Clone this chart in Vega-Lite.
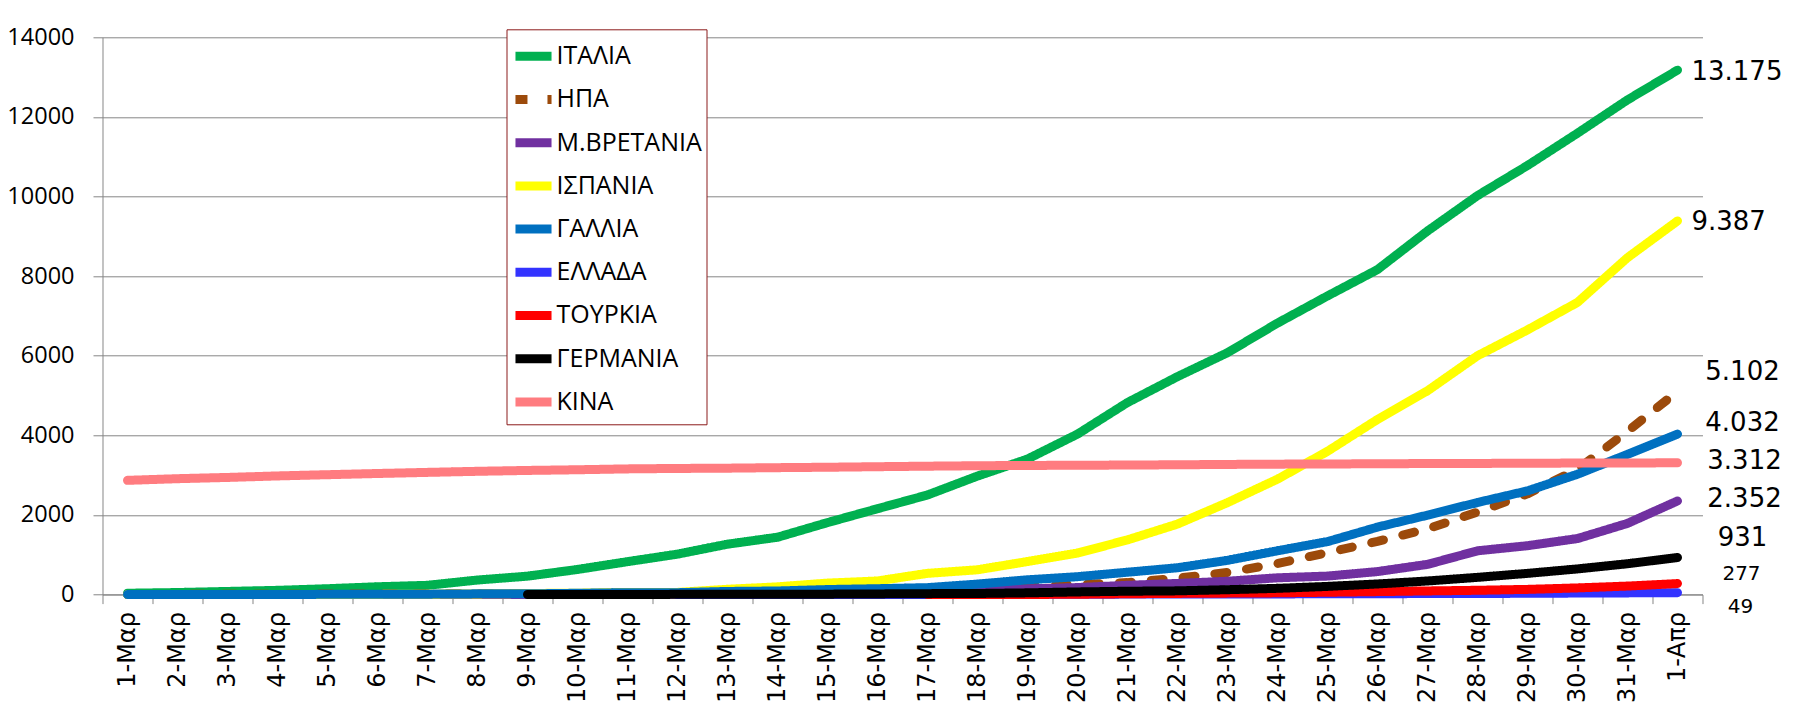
{
"$schema":"https://vega.github.io/schema/vega-lite/v6.json",
"width":1600,"height":557.3,
"autosize":{"type":"none"},
"padding":{"left":102.5,"top":37.3,"right":102,"bottom":121},
"background":"white",
"config":{
"locale":{"number":{"decimal":",","thousands":".","grouping":[3],"currency":["","€"]}},
"view":{"stroke":null},
"axis":{"title":null},
"legend":{"orient":"none","legendX":404,"legendY":-8,"strokeColor":"#8B1A1A","fillColor":"white","padding":4,"labelFont":"Open Sans","labelFontSize":25,"labelColor":"black","symbolType":"stroke","symbolSize":1300,"symbolStrokeWidth":9,"rowPadding":2.2,"labelOffset":0,"labelLimit":300}
},
"data":{"values":[
{"c":"ΙΤΑΛΙΑ","d":"1-Μαρ","v":34},{"c":"ΙΤΑΛΙΑ","d":"2-Μαρ","v":52},{"c":"ΙΤΑΛΙΑ","d":"3-Μαρ","v":79},{"c":"ΙΤΑΛΙΑ","d":"4-Μαρ","v":107},{"c":"ΙΤΑΛΙΑ","d":"5-Μαρ","v":148},{"c":"ΙΤΑΛΙΑ","d":"6-Μαρ","v":197},{"c":"ΙΤΑΛΙΑ","d":"7-Μαρ","v":233},{"c":"ΙΤΑΛΙΑ","d":"8-Μαρ","v":366},{"c":"ΙΤΑΛΙΑ","d":"9-Μαρ","v":463},{"c":"ΙΤΑΛΙΑ","d":"10-Μαρ","v":631},{"c":"ΙΤΑΛΙΑ","d":"11-Μαρ","v":827},{"c":"ΙΤΑΛΙΑ","d":"12-Μαρ","v":1016},{"c":"ΙΤΑΛΙΑ","d":"13-Μαρ","v":1266},{"c":"ΙΤΑΛΙΑ","d":"14-Μαρ","v":1441},{"c":"ΙΤΑΛΙΑ","d":"15-Μαρ","v":1809},{"c":"ΙΤΑΛΙΑ","d":"16-Μαρ","v":2158},{"c":"ΙΤΑΛΙΑ","d":"17-Μαρ","v":2503},{"c":"ΙΤΑΛΙΑ","d":"18-Μαρ","v":2978},{"c":"ΙΤΑΛΙΑ","d":"19-Μαρ","v":3405},{"c":"ΙΤΑΛΙΑ","d":"20-Μαρ","v":4032},{"c":"ΙΤΑΛΙΑ","d":"21-Μαρ","v":4825},{"c":"ΙΤΑΛΙΑ","d":"22-Μαρ","v":5476},{"c":"ΙΤΑΛΙΑ","d":"23-Μαρ","v":6077},{"c":"ΙΤΑΛΙΑ","d":"24-Μαρ","v":6820},{"c":"ΙΤΑΛΙΑ","d":"25-Μαρ","v":7503},{"c":"ΙΤΑΛΙΑ","d":"26-Μαρ","v":8165},{"c":"ΙΤΑΛΙΑ","d":"27-Μαρ","v":9134},{"c":"ΙΤΑΛΙΑ","d":"28-Μαρ","v":10023},{"c":"ΙΤΑΛΙΑ","d":"29-Μαρ","v":10779},{"c":"ΙΤΑΛΙΑ","d":"30-Μαρ","v":11591},{"c":"ΙΤΑΛΙΑ","d":"31-Μαρ","v":12428},{"c":"ΙΤΑΛΙΑ","d":"1-Απρ","v":13175},
{"c":"ΗΠΑ","d":"1-Μαρ","v":1},{"c":"ΗΠΑ","d":"2-Μαρ","v":6},{"c":"ΗΠΑ","d":"3-Μαρ","v":9},{"c":"ΗΠΑ","d":"4-Μαρ","v":11},{"c":"ΗΠΑ","d":"5-Μαρ","v":12},{"c":"ΗΠΑ","d":"6-Μαρ","v":14},{"c":"ΗΠΑ","d":"7-Μαρ","v":17},{"c":"ΗΠΑ","d":"8-Μαρ","v":21},{"c":"ΗΠΑ","d":"9-Μαρ","v":22},{"c":"ΗΠΑ","d":"10-Μαρ","v":28},{"c":"ΗΠΑ","d":"11-Μαρ","v":36},{"c":"ΗΠΑ","d":"12-Μαρ","v":40},{"c":"ΗΠΑ","d":"13-Μαρ","v":47},{"c":"ΗΠΑ","d":"14-Μαρ","v":54},{"c":"ΗΠΑ","d":"15-Μαρ","v":63},{"c":"ΗΠΑ","d":"16-Μαρ","v":85},{"c":"ΗΠΑ","d":"17-Μαρ","v":108},{"c":"ΗΠΑ","d":"18-Μαρ","v":150},{"c":"ΗΠΑ","d":"19-Μαρ","v":206},{"c":"ΗΠΑ","d":"20-Μαρ","v":255},{"c":"ΗΠΑ","d":"21-Μαρ","v":301},{"c":"ΗΠΑ","d":"22-Μαρ","v":414},{"c":"ΗΠΑ","d":"23-Μαρ","v":555},{"c":"ΗΠΑ","d":"24-Μαρ","v":780},{"c":"ΗΠΑ","d":"25-Μαρ","v":1054},{"c":"ΗΠΑ","d":"26-Μαρ","v":1337},{"c":"ΗΠΑ","d":"27-Μαρ","v":1652},{"c":"ΗΠΑ","d":"28-Μαρ","v":2074},{"c":"ΗΠΑ","d":"29-Μαρ","v":2530},{"c":"ΗΠΑ","d":"30-Μαρ","v":3150},{"c":"ΗΠΑ","d":"31-Μαρ","v":4100},{"c":"ΗΠΑ","d":"1-Απρ","v":5102},
{"c":"Μ.ΒΡΕΤΑΝΙΑ","d":"1-Μαρ","v":0},{"c":"Μ.ΒΡΕΤΑΝΙΑ","d":"2-Μαρ","v":0},{"c":"Μ.ΒΡΕΤΑΝΙΑ","d":"3-Μαρ","v":0},{"c":"Μ.ΒΡΕΤΑΝΙΑ","d":"4-Μαρ","v":0},{"c":"Μ.ΒΡΕΤΑΝΙΑ","d":"5-Μαρ","v":1},{"c":"Μ.ΒΡΕΤΑΝΙΑ","d":"6-Μαρ","v":2},{"c":"Μ.ΒΡΕΤΑΝΙΑ","d":"7-Μαρ","v":2},{"c":"Μ.ΒΡΕΤΑΝΙΑ","d":"8-Μαρ","v":3},{"c":"Μ.ΒΡΕΤΑΝΙΑ","d":"9-Μαρ","v":4},{"c":"Μ.ΒΡΕΤΑΝΙΑ","d":"10-Μαρ","v":6},{"c":"Μ.ΒΡΕΤΑΝΙΑ","d":"11-Μαρ","v":8},{"c":"Μ.ΒΡΕΤΑΝΙΑ","d":"12-Μαρ","v":8},{"c":"Μ.ΒΡΕΤΑΝΙΑ","d":"13-Μαρ","v":8},{"c":"Μ.ΒΡΕΤΑΝΙΑ","d":"14-Μαρ","v":21},{"c":"Μ.ΒΡΕΤΑΝΙΑ","d":"15-Μαρ","v":35},{"c":"Μ.ΒΡΕΤΑΝΙΑ","d":"16-Μαρ","v":55},{"c":"Μ.ΒΡΕΤΑΝΙΑ","d":"17-Μαρ","v":71},{"c":"Μ.ΒΡΕΤΑΝΙΑ","d":"18-Μαρ","v":104},{"c":"Μ.ΒΡΕΤΑΝΙΑ","d":"19-Μαρ","v":144},{"c":"Μ.ΒΡΕΤΑΝΙΑ","d":"20-Μαρ","v":177},{"c":"Μ.ΒΡΕΤΑΝΙΑ","d":"21-Μαρ","v":233},{"c":"Μ.ΒΡΕΤΑΝΙΑ","d":"22-Μαρ","v":281},{"c":"Μ.ΒΡΕΤΑΝΙΑ","d":"23-Μαρ","v":335},{"c":"Μ.ΒΡΕΤΑΝΙΑ","d":"24-Μαρ","v":422},{"c":"Μ.ΒΡΕΤΑΝΙΑ","d":"25-Μαρ","v":465},{"c":"Μ.ΒΡΕΤΑΝΙΑ","d":"26-Μαρ","v":578},{"c":"Μ.ΒΡΕΤΑΝΙΑ","d":"27-Μαρ","v":759},{"c":"Μ.ΒΡΕΤΑΝΙΑ","d":"28-Μαρ","v":1100},{"c":"Μ.ΒΡΕΤΑΝΙΑ","d":"29-Μαρ","v":1228},{"c":"Μ.ΒΡΕΤΑΝΙΑ","d":"30-Μαρ","v":1408},{"c":"Μ.ΒΡΕΤΑΝΙΑ","d":"31-Μαρ","v":1789},{"c":"Μ.ΒΡΕΤΑΝΙΑ","d":"1-Απρ","v":2352},
{"c":"ΙΣΠΑΝΙΑ","d":"1-Μαρ","v":0},{"c":"ΙΣΠΑΝΙΑ","d":"2-Μαρ","v":0},{"c":"ΙΣΠΑΝΙΑ","d":"3-Μαρ","v":1},{"c":"ΙΣΠΑΝΙΑ","d":"4-Μαρ","v":2},{"c":"ΙΣΠΑΝΙΑ","d":"5-Μαρ","v":3},{"c":"ΙΣΠΑΝΙΑ","d":"6-Μαρ","v":5},{"c":"ΙΣΠΑΝΙΑ","d":"7-Μαρ","v":10},{"c":"ΙΣΠΑΝΙΑ","d":"8-Μαρ","v":17},{"c":"ΙΣΠΑΝΙΑ","d":"9-Μαρ","v":28},{"c":"ΙΣΠΑΝΙΑ","d":"10-Μαρ","v":35},{"c":"ΙΣΠΑΝΙΑ","d":"11-Μαρ","v":54},{"c":"ΙΣΠΑΝΙΑ","d":"12-Μαρ","v":55},{"c":"ΙΣΠΑΝΙΑ","d":"13-Μαρ","v":133},{"c":"ΙΣΠΑΝΙΑ","d":"14-Μαρ","v":195},{"c":"ΙΣΠΑΝΙΑ","d":"15-Μαρ","v":289},{"c":"ΙΣΠΑΝΙΑ","d":"16-Μαρ","v":342},{"c":"ΙΣΠΑΝΙΑ","d":"17-Μαρ","v":533},{"c":"ΙΣΠΑΝΙΑ","d":"18-Μαρ","v":623},{"c":"ΙΣΠΑΝΙΑ","d":"19-Μαρ","v":830},{"c":"ΙΣΠΑΝΙΑ","d":"20-Μαρ","v":1043},{"c":"ΙΣΠΑΝΙΑ","d":"21-Μαρ","v":1375},{"c":"ΙΣΠΑΝΙΑ","d":"22-Μαρ","v":1772},{"c":"ΙΣΠΑΝΙΑ","d":"23-Μαρ","v":2311},{"c":"ΙΣΠΑΝΙΑ","d":"24-Μαρ","v":2900},{"c":"ΙΣΠΑΝΙΑ","d":"25-Μαρ","v":3600},{"c":"ΙΣΠΑΝΙΑ","d":"26-Μαρ","v":4400},{"c":"ΙΣΠΑΝΙΑ","d":"27-Μαρ","v":5120},{"c":"ΙΣΠΑΝΙΑ","d":"28-Μαρ","v":6000},{"c":"ΙΣΠΑΝΙΑ","d":"29-Μαρ","v":6650},{"c":"ΙΣΠΑΝΙΑ","d":"30-Μαρ","v":7340},{"c":"ΙΣΠΑΝΙΑ","d":"31-Μαρ","v":8464},{"c":"ΙΣΠΑΝΙΑ","d":"1-Απρ","v":9387},
{"c":"ΓΑΛΛΙΑ","d":"1-Μαρ","v":2},{"c":"ΓΑΛΛΙΑ","d":"2-Μαρ","v":3},{"c":"ΓΑΛΛΙΑ","d":"3-Μαρ","v":4},{"c":"ΓΑΛΛΙΑ","d":"4-Μαρ","v":4},{"c":"ΓΑΛΛΙΑ","d":"5-Μαρ","v":6},{"c":"ΓΑΛΛΙΑ","d":"6-Μαρ","v":9},{"c":"ΓΑΛΛΙΑ","d":"7-Μαρ","v":11},{"c":"ΓΑΛΛΙΑ","d":"8-Μαρ","v":19},{"c":"ΓΑΛΛΙΑ","d":"9-Μαρ","v":19},{"c":"ΓΑΛΛΙΑ","d":"10-Μαρ","v":33},{"c":"ΓΑΛΛΙΑ","d":"11-Μαρ","v":48},{"c":"ΓΑΛΛΙΑ","d":"12-Μαρ","v":48},{"c":"ΓΑΛΛΙΑ","d":"13-Μαρ","v":79},{"c":"ΓΑΛΛΙΑ","d":"14-Μαρ","v":91},{"c":"ΓΑΛΛΙΑ","d":"15-Μαρ","v":127},{"c":"ΓΑΛΛΙΑ","d":"16-Μαρ","v":148},{"c":"ΓΑΛΛΙΑ","d":"17-Μαρ","v":175},{"c":"ΓΑΛΛΙΑ","d":"18-Μαρ","v":264},{"c":"ΓΑΛΛΙΑ","d":"19-Μαρ","v":372},{"c":"ΓΑΛΛΙΑ","d":"20-Μαρ","v":450},{"c":"ΓΑΛΛΙΑ","d":"21-Μαρ","v":562},{"c":"ΓΑΛΛΙΑ","d":"22-Μαρ","v":674},{"c":"ΓΑΛΛΙΑ","d":"23-Μαρ","v":860},{"c":"ΓΑΛΛΙΑ","d":"24-Μαρ","v":1100},{"c":"ΓΑΛΛΙΑ","d":"25-Μαρ","v":1331},{"c":"ΓΑΛΛΙΑ","d":"26-Μαρ","v":1696},{"c":"ΓΑΛΛΙΑ","d":"27-Μαρ","v":1995},{"c":"ΓΑΛΛΙΑ","d":"28-Μαρ","v":2314},{"c":"ΓΑΛΛΙΑ","d":"29-Μαρ","v":2606},{"c":"ΓΑΛΛΙΑ","d":"30-Μαρ","v":3024},{"c":"ΓΑΛΛΙΑ","d":"31-Μαρ","v":3523},{"c":"ΓΑΛΛΙΑ","d":"1-Απρ","v":4032},
{"c":"ΕΛΛΑΔΑ","d":"12-Μαρ","v":1},{"c":"ΕΛΛΑΔΑ","d":"13-Μαρ","v":1},{"c":"ΕΛΛΑΔΑ","d":"14-Μαρ","v":3},{"c":"ΕΛΛΑΔΑ","d":"15-Μαρ","v":4},{"c":"ΕΛΛΑΔΑ","d":"16-Μαρ","v":4},{"c":"ΕΛΛΑΔΑ","d":"17-Μαρ","v":5},{"c":"ΕΛΛΑΔΑ","d":"18-Μαρ","v":5},{"c":"ΕΛΛΑΔΑ","d":"19-Μαρ","v":6},{"c":"ΕΛΛΑΔΑ","d":"20-Μαρ","v":6},{"c":"ΕΛΛΑΔΑ","d":"21-Μαρ","v":13},{"c":"ΕΛΛΑΔΑ","d":"22-Μαρ","v":13},{"c":"ΕΛΛΑΔΑ","d":"23-Μαρ","v":15},{"c":"ΕΛΛΑΔΑ","d":"24-Μαρ","v":17},{"c":"ΕΛΛΑΔΑ","d":"25-Μαρ","v":20},{"c":"ΕΛΛΑΔΑ","d":"26-Μαρ","v":22},{"c":"ΕΛΛΑΔΑ","d":"27-Μαρ","v":26},{"c":"ΕΛΛΑΔΑ","d":"28-Μαρ","v":28},{"c":"ΕΛΛΑΔΑ","d":"29-Μαρ","v":32},{"c":"ΕΛΛΑΔΑ","d":"30-Μαρ","v":38},{"c":"ΕΛΛΑΔΑ","d":"31-Μαρ","v":43},{"c":"ΕΛΛΑΔΑ","d":"1-Απρ","v":49},
{"c":"ΤΟΥΡΚΙΑ","d":"17-Μαρ","v":1},{"c":"ΤΟΥΡΚΙΑ","d":"18-Μαρ","v":2},{"c":"ΤΟΥΡΚΙΑ","d":"19-Μαρ","v":3},{"c":"ΤΟΥΡΚΙΑ","d":"20-Μαρ","v":9},{"c":"ΤΟΥΡΚΙΑ","d":"21-Μαρ","v":21},{"c":"ΤΟΥΡΚΙΑ","d":"22-Μαρ","v":30},{"c":"ΤΟΥΡΚΙΑ","d":"23-Μαρ","v":37},{"c":"ΤΟΥΡΚΙΑ","d":"24-Μαρ","v":44},{"c":"ΤΟΥΡΚΙΑ","d":"25-Μαρ","v":59},{"c":"ΤΟΥΡΚΙΑ","d":"26-Μαρ","v":75},{"c":"ΤΟΥΡΚΙΑ","d":"27-Μαρ","v":92},{"c":"ΤΟΥΡΚΙΑ","d":"28-Μαρ","v":108},{"c":"ΤΟΥΡΚΙΑ","d":"29-Μαρ","v":131},{"c":"ΤΟΥΡΚΙΑ","d":"30-Μαρ","v":168},{"c":"ΤΟΥΡΚΙΑ","d":"31-Μαρ","v":214},{"c":"ΤΟΥΡΚΙΑ","d":"1-Απρ","v":277},
{"c":"ΓΕΡΜΑΝΙΑ","d":"9-Μαρ","v":2},{"c":"ΓΕΡΜΑΝΙΑ","d":"10-Μαρ","v":2},{"c":"ΓΕΡΜΑΝΙΑ","d":"11-Μαρ","v":3},{"c":"ΓΕΡΜΑΝΙΑ","d":"12-Μαρ","v":6},{"c":"ΓΕΡΜΑΝΙΑ","d":"13-Μαρ","v":8},{"c":"ΓΕΡΜΑΝΙΑ","d":"14-Μαρ","v":9},{"c":"ΓΕΡΜΑΝΙΑ","d":"15-Μαρ","v":11},{"c":"ΓΕΡΜΑΝΙΑ","d":"16-Μαρ","v":17},{"c":"ΓΕΡΜΑΝΙΑ","d":"17-Μαρ","v":24},{"c":"ΓΕΡΜΑΝΙΑ","d":"18-Μαρ","v":28},{"c":"ΓΕΡΜΑΝΙΑ","d":"19-Μαρ","v":44},{"c":"ΓΕΡΜΑΝΙΑ","d":"20-Μαρ","v":67},{"c":"ΓΕΡΜΑΝΙΑ","d":"21-Μαρ","v":84},{"c":"ΓΕΡΜΑΝΙΑ","d":"22-Μαρ","v":94},{"c":"ΓΕΡΜΑΝΙΑ","d":"23-Μαρ","v":123},{"c":"ΓΕΡΜΑΝΙΑ","d":"24-Μαρ","v":157},{"c":"ΓΕΡΜΑΝΙΑ","d":"25-Μαρ","v":206},{"c":"ΓΕΡΜΑΝΙΑ","d":"26-Μαρ","v":267},{"c":"ΓΕΡΜΑΝΙΑ","d":"27-Μαρ","v":342},{"c":"ΓΕΡΜΑΝΙΑ","d":"28-Μαρ","v":433},{"c":"ΓΕΡΜΑΝΙΑ","d":"29-Μαρ","v":533},{"c":"ΓΕΡΜΑΝΙΑ","d":"30-Μαρ","v":645},{"c":"ΓΕΡΜΑΝΙΑ","d":"31-Μαρ","v":775},{"c":"ΓΕΡΜΑΝΙΑ","d":"1-Απρ","v":931},
{"c":"ΚΙΝΑ","d":"1-Μαρ","v":2870},{"c":"ΚΙΝΑ","d":"2-Μαρ","v":2912},{"c":"ΚΙΝΑ","d":"3-Μαρ","v":2943},{"c":"ΚΙΝΑ","d":"4-Μαρ","v":2981},{"c":"ΚΙΝΑ","d":"5-Μαρ","v":3012},{"c":"ΚΙΝΑ","d":"6-Μαρ","v":3042},{"c":"ΚΙΝΑ","d":"7-Μαρ","v":3070},{"c":"ΚΙΝΑ","d":"8-Μαρ","v":3097},{"c":"ΚΙΝΑ","d":"9-Μαρ","v":3119},{"c":"ΚΙΝΑ","d":"10-Μαρ","v":3136},{"c":"ΚΙΝΑ","d":"11-Μαρ","v":3158},{"c":"ΚΙΝΑ","d":"12-Μαρ","v":3169},{"c":"ΚΙΝΑ","d":"13-Μαρ","v":3176},{"c":"ΚΙΝΑ","d":"14-Μαρ","v":3189},{"c":"ΚΙΝΑ","d":"15-Μαρ","v":3199},{"c":"ΚΙΝΑ","d":"16-Μαρ","v":3213},{"c":"ΚΙΝΑ","d":"17-Μαρ","v":3226},{"c":"ΚΙΝΑ","d":"18-Μαρ","v":3237},{"c":"ΚΙΝΑ","d":"19-Μαρ","v":3245},{"c":"ΚΙΝΑ","d":"20-Μαρ","v":3248},{"c":"ΚΙΝΑ","d":"21-Μαρ","v":3255},{"c":"ΚΙΝΑ","d":"22-Μαρ","v":3261},{"c":"ΚΙΝΑ","d":"23-Μαρ","v":3270},{"c":"ΚΙΝΑ","d":"24-Μαρ","v":3277},{"c":"ΚΙΝΑ","d":"25-Μαρ","v":3281},{"c":"ΚΙΝΑ","d":"26-Μαρ","v":3287},{"c":"ΚΙΝΑ","d":"27-Μαρ","v":3292},{"c":"ΚΙΝΑ","d":"28-Μαρ","v":3295},{"c":"ΚΙΝΑ","d":"29-Μαρ","v":3300},{"c":"ΚΙΝΑ","d":"30-Μαρ","v":3304},{"c":"ΚΙΝΑ","d":"31-Μαρ","v":3305},{"c":"ΚΙΝΑ","d":"1-Απρ","v":3312}
]},
"encoding":{
"x":{"field":"d","type":"ordinal","bandPosition":0.5,
 "scale":{"type":"band","paddingInner":0,"paddingOuter":0,"domain":["1-Μαρ","2-Μαρ","3-Μαρ","4-Μαρ","5-Μαρ","6-Μαρ","7-Μαρ","8-Μαρ","9-Μαρ","10-Μαρ","11-Μαρ","12-Μαρ","13-Μαρ","14-Μαρ","15-Μαρ","16-Μαρ","17-Μαρ","18-Μαρ","19-Μαρ","20-Μαρ","21-Μαρ","22-Μαρ","23-Μαρ","24-Μαρ","25-Μαρ","26-Μαρ","27-Μαρ","28-Μαρ","29-Μαρ","30-Μαρ","31-Μαρ","1-Απρ"]},
 "axis":{"tickBand":"extent","labelAngle":270,"labelFont":"DejaVu Sans","labelFontSize":24,"labelColor":"black","labelPadding":8,"tickSize":9,"tickColor":"#868686","domainColor":"#868686","grid":false,"labelOverlap":false}},
"y":{"field":"v","type":"quantitative","scale":{"domain":[0,14000],"nice":false},
 "axis":{"values":[0,2000,4000,6000,8000,10000,12000,14000],"format":"d","labelFont":"Open Sans","labelFontSize":23.5,"labelColor":"black","labelPadding":19,"tickSize":9.5,"tickColor":"#868686","domainColor":"#868686","gridColor":"#868686","grid":true}}
},
"layer":[
{"mark":{"type":"line","strokeWidth":9,"strokeCap":"round","strokeJoin":"round"},
 "encoding":{
  "color":{"field":"c","type":"nominal","legend":{"title":null},"scale":{"domain":["ΙΤΑΛΙΑ","ΗΠΑ","Μ.ΒΡΕΤΑΝΙΑ","ΙΣΠΑΝΙΑ","ΓΑΛΛΙΑ","ΕΛΛΑΔΑ","ΤΟΥΡΚΙΑ","ΓΕΡΜΑΝΙΑ","ΚΙΝΑ"],"range":["#00B050","#9C4A0B","#7030A0","#FFFF00","#0070C0","#3333FF","#FF0000","#000000","#FF7C80"]}},
  "strokeDash":{"field":"c","type":"nominal","legend":{"title":null},"scale":{"domain":["ΙΤΑΛΙΑ","ΗΠΑ","Μ.ΒΡΕΤΑΝΙΑ","ΙΣΠΑΝΙΑ","ΓΑΛΛΙΑ","ΕΛΛΑΔΑ","ΤΟΥΡΚΙΑ","ΓΕΡΜΑΝΙΑ","ΚΙΝΑ"],"range":[[1,0],[12,20],[1,0],[1,0],[1,0],[1,0],[1,0],[1,0],[1,0]]}}
 }},
{"transform":[{"filter":{"field":"d","equal":"1-Απρ"}},{"filter":{"field":"c","oneOf":["ΙΤΑΛΙΑ","ΙΣΠΑΝΙΑ"]}}],
 "mark":{"type":"text","font":"DejaVu Sans","fontSize":26,"align":"left","baseline":"middle","dx":14,"dy":1.5,"color":"black"},
 "encoding":{"text":{"field":"v","type":"quantitative","format":",d"}}},
{"transform":[{"filter":{"field":"d","equal":"1-Απρ"}},{"filter":{"field":"c","oneOf":["ΚΙΝΑ","Μ.ΒΡΕΤΑΝΙΑ"]}}],
 "mark":{"type":"text","font":"DejaVu Sans","fontSize":26,"align":"center","baseline":"middle","dx":67,"dy":-2,"color":"black"},
 "encoding":{"text":{"field":"v","type":"quantitative","format":",d"}}},
{"transform":[{"filter":{"field":"d","equal":"1-Απρ"}},{"filter":{"field":"c","oneOf":["ΗΠΑ","ΓΕΡΜΑΝΙΑ"]}}],
 "mark":{"type":"text","font":"DejaVu Sans","fontSize":26,"align":"center","baseline":"middle","dx":65,"dy":-19.5,"color":"black"},
 "encoding":{"text":{"field":"v","type":"quantitative","format":",d"}}},
{"transform":[{"filter":{"field":"d","equal":"1-Απρ"}},{"filter":{"field":"c","equal":"ΓΑΛΛΙΑ"}}],
 "mark":{"type":"text","font":"DejaVu Sans","fontSize":26,"align":"center","baseline":"middle","dx":65,"dy":-11.5,"color":"black"},
 "encoding":{"text":{"field":"v","type":"quantitative","format":",d"}}},
{"transform":[{"filter":{"field":"d","equal":"1-Απρ"}},{"filter":{"field":"c","equal":"ΤΟΥΡΚΙΑ"}}],
 "mark":{"type":"text","font":"DejaVu Sans","fontSize":20,"align":"center","baseline":"middle","dx":64,"dy":-9.3,"color":"black"},
 "encoding":{"text":{"field":"v","type":"quantitative","format":",d"}}},
{"transform":[{"filter":{"field":"d","equal":"1-Απρ"}},{"filter":{"field":"c","equal":"ΕΛΛΑΔΑ"}}],
 "mark":{"type":"text","font":"DejaVu Sans","fontSize":20,"align":"center","baseline":"middle","dx":63,"dy":14,"color":"black"},
 "encoding":{"text":{"field":"v","type":"quantitative","format":",d"}}}
]
}
